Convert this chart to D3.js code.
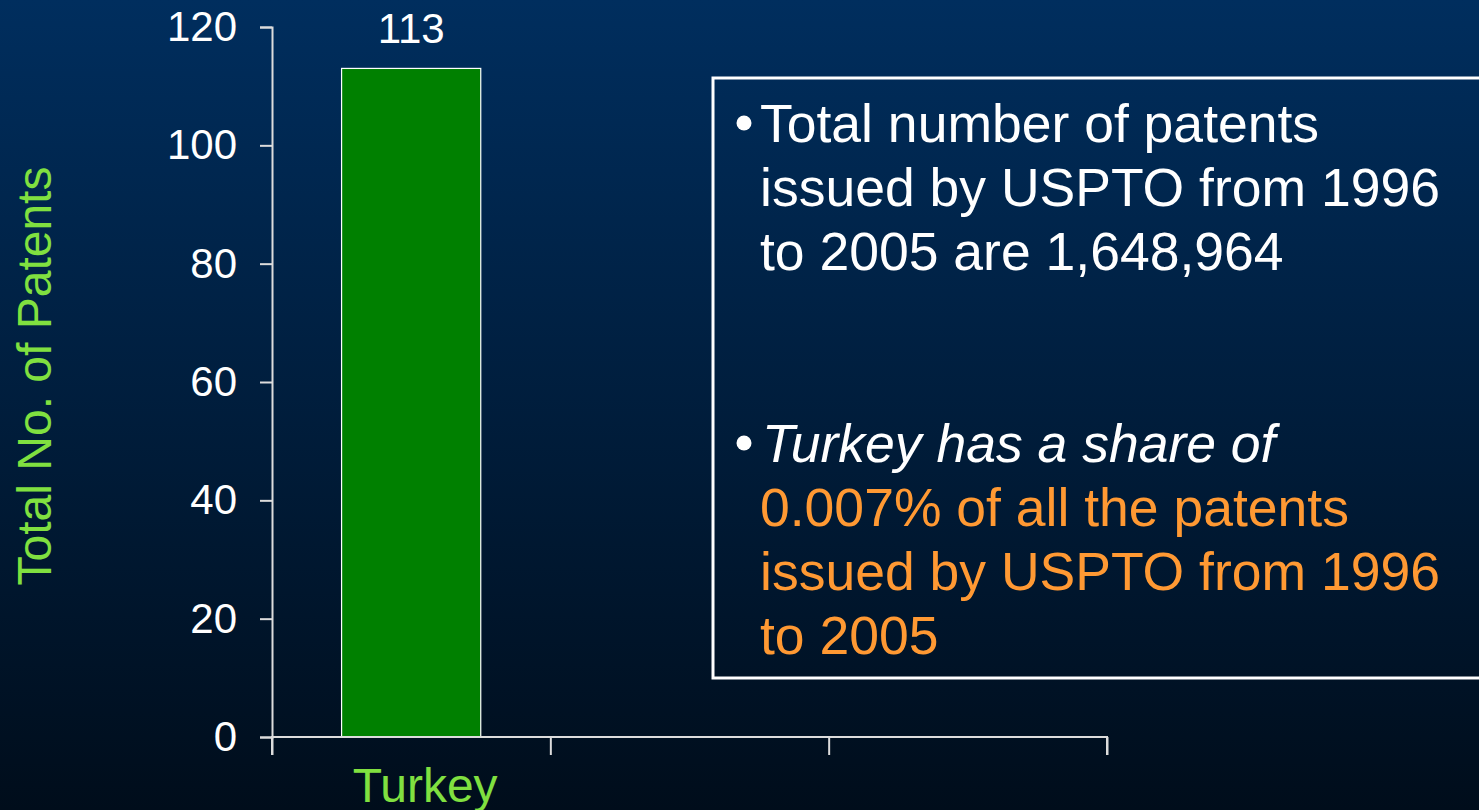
<!DOCTYPE html>
<html>
<head>
<meta charset="utf-8">
<script src="https://cdn.jsdelivr.net/npm/d3@7"></script>
<style>
  html, body { margin: 0; padding: 0; overflow: hidden; }
  body { width: 1479px; height: 810px; }
</style>
</head>
<body>
<div id="visualization"></div>
<script>
// data
const categories = ["Turkey", "", ""];
const patents = [113];
const yTicks = [0, 20, 40, 60, 80, 100, 120];
const yLabel = "Total No. of Patents";
const note1 = ["Total number of patents", "issued by USPTO from 1996", "to 2005 are 1,648,964"];
const note2Head = "Turkey has a share of";
const note2 = ["0.007% of all the patents", "issued by USPTO from 1996", "to 2005"];

const W = 1479, H = 810;
const green = "#80e040", orange = "#ff9933";
const font = "Arial, 'Liberation Sans', sans-serif";

const svg = d3.select("#visualization").append("svg")
    .attr("width", W)
    .attr("height", H)
    .style("font-family", font);

// background gradient
const grad = svg.append("defs").append("linearGradient")
    .attr("id", "bg")
    .attr("x1", 0).attr("y1", 0).attr("x2", 0).attr("y2", 1);
grad.append("stop").attr("offset", "0%").attr("stop-color", "#002e5e");
grad.append("stop").attr("offset", "100%").attr("stop-color", "#000d1b");
svg.append("rect").attr("width", W).attr("height", H).attr("fill", "url(#bg)");

const plotLeft = 272, plotRight = 1107, plotTop = 27, plotBottom = 737;

const yScale = d3.scaleLinear().domain([0, 120]).range([plotBottom, plotTop]);
const xBand = d3.scaleBand()
    .domain(d3.range(categories.length))
    .range([plotLeft, plotRight])
    .paddingInner(0.5)
    .paddingOuter(0.25);
const xEdge = d3.scaleLinear().domain([0, categories.length]).range([plotLeft, plotRight]);

// bars
svg.selectAll("rect.bar")
    .data(patents)
    .enter()
    .append("rect")
    .attr("class", "bar")
    .attr("x", (d, i) => xBand(i))
    .attr("y", d => yScale(d))
    .attr("width", xBand.bandwidth())
    .attr("height", d => yScale(0) - yScale(d))
    .attr("fill", "#008000")
    .attr("stroke", "#ffffff")
    .attr("stroke-width", 1.2);

svg.selectAll("text.val")
    .data(patents)
    .enter()
    .append("text")
    .attr("class", "val")
    .attr("x", (d, i) => xBand(i) + xBand.bandwidth() / 2)
    .attr("y", d => yScale(d) - 25)
    .attr("text-anchor", "middle")
    .attr("fill", "#ffffff")
    .style("font-size", "42px")
    .text(d => d);

// y axis
const yAxis = svg.append("g")
    .attr("transform", `translate(${plotLeft},0)`)
    .call(d3.axisLeft(yScale).tickValues(yTicks).tickSize(12).tickPadding(23));

// x axis, ticks on the band edges
const xAxis = svg.append("g")
    .attr("transform", `translate(0,${plotBottom})`)
    .call(d3.axisBottom(xEdge).tickValues(d3.range(categories.length + 1)).tickSize(18).tickFormat(""));

[yAxis, xAxis].forEach(g => {
    g.selectAll("path, line").attr("stroke", "#dcdcdc").attr("stroke-width", 2);
    g.selectAll("text").attr("fill", "#ffffff").style("font-size", "42px").style("font-family", font);
});
xAxis.select("path").attr("d", `M${plotLeft},18V0H${plotRight}V18`);

// category label sits a little right of the bar centre, as in the slide
svg.selectAll("text.cat")
    .data(categories.filter(c => c))
    .enter()
    .append("text")
    .attr("class", "cat")
    .attr("x", (d, i) => xBand(i) + xBand.bandwidth() / 2 + 14)
    .attr("y", 802)
    .attr("text-anchor", "middle")
    .attr("fill", green)
    .style("font-size", "48px")
    .text(d => d);

svg.append("text")
    .attr("transform", "translate(51,376) rotate(-90)")
    .attr("text-anchor", "middle")
    .attr("fill", green)
    .style("font-size", "48px")
    .text(yLabel);

// note box
svg.append("rect")
    .attr("x", 713)
    .attr("y", 78)
    .attr("width", 800)
    .attr("height", 600)
    .attr("fill", "none")
    .attr("stroke", "#ffffff")
    .attr("stroke-width", 3);

const tx = 760, lh = 64, base = 142;

function bullet(y) {
    svg.append("circle")
        .attr("cx", 744)
        .attr("cy", y - 19)
        .attr("r", 7.5)
        .attr("fill", "#ffffff");
}

bullet(base);
svg.selectAll("text.n1")
    .data(note1)
    .enter()
    .append("text")
    .attr("class", "n1")
    .attr("x", tx)
    .attr("y", (d, i) => base + i * lh)
    .attr("fill", "#ffffff")
    .style("font-size", "53.5px")
    .text(d => d);

const base2 = base + 5 * lh;
bullet(base2);
svg.append("text")
    .attr("x", tx + 2)
    .attr("y", base2)
    .attr("fill", "#ffffff")
    .style("font-size", "53.5px")
    .style("font-style", "italic")
    .text(note2Head);

svg.selectAll("text.n2")
    .data(note2)
    .enter()
    .append("text")
    .attr("class", "n2")
    .attr("x", tx)
    .attr("y", (d, i) => base2 + (i + 1) * lh)
    .attr("fill", orange)
    .style("font-size", "53.5px")
    .text(d => d);
</script>
</body>
</html>
